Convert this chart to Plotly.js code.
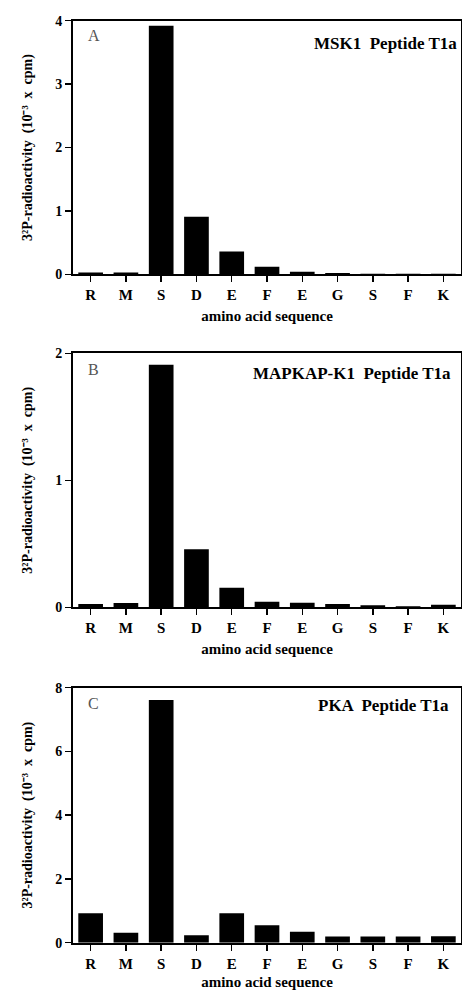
<!DOCTYPE html>
<html>
<head>
<meta charset="utf-8">
<script src="https://cdn.plot.ly/plotly-3.0.1.min.js"></script>
<style>html,body{margin:0;padding:0;background:#fff;}#chart{width:462px;height:990px;}</style>
</head>
<body>
<div id="chart"></div>
<script>
// amino acid sequence of peptide T1a
const residues = ['R','M','S','D','E','F','E','G','S','F','K'];
// 32P-radioactivity (10^-3 x cpm) released at each Edman cycle
const msk1Values    = [0.03, 0.03, 3.92, 0.91, 0.36, 0.12, 0.04, 0.02, 0.01, 0.01, 0.01];
const mapkapValues  = [0.026, 0.034, 1.91, 0.457, 0.154, 0.044, 0.036, 0.026, 0.016, 0.008, 0.02];
const pkaValues     = [0.92, 0.31, 7.61, 0.23, 0.92, 0.545, 0.345, 0.19, 0.19, 0.19, 0.2];
const panelLetters  = ['A','B','C'];
const panelTitles   = ['MSK1  Peptide T1a','MAPKAP-K1  Peptide T1a','PKA  Peptide T1a'];
const yTickSets     = [[0,1,2,3,4],[0,1,2],[0,2,4,6,8]];
const yRanges       = [[0,4],[0,2],[0,8]];
const yTitle        = '3²P-radioactivity  (10⁻³  x  cpm)';
const xTitle        = 'amino acid sequence';

const positions = residues.map((_, i) => i);
const series = [msk1Values, mapkapValues, pkaValues];

const serif = 'Liberation Serif, Times New Roman, serif';
const domains = [[0.7229, 0.9791],[0.3866, 0.6431],[0.0478, 0.3054]];

const traces = series.map((vals, k) => ({
  type: 'bar',
  x: positions,
  y: vals,
  xaxis: k === 0 ? 'x' : 'x' + (k + 1),
  yaxis: k === 0 ? 'y' : 'y' + (k + 1),
  width: 0.7,
  marker: {color: '#000', line: {width: 0}},
  showlegend: false,
  hoverinfo: 'skip'
}));

const layout = {
  width: 462, height: 990,
  margin: {l: 73, r: 1, t: 0, b: 0},
  paper_bgcolor: '#fff', plot_bgcolor: '#fff',
  showlegend: false,
  annotations: []
};

const titleXs = [0.995, 0.979, 0.974];
const titleYs = [0.912, 0.921, 0.929];
const letterYs = [0.94, 0.937, 0.939];

for (let k = 0; k < 3; k++) {
  const xa = k === 0 ? 'xaxis' : 'xaxis' + (k + 1);
  const ya = k === 0 ? 'yaxis' : 'yaxis' + (k + 1);
  const xr = k === 0 ? 'x' : 'x' + (k + 1);
  const yr = k === 0 ? 'y' : 'y' + (k + 1);
  layout[xa] = {
    domain: [0, 1],
    anchor: yr,
    range: [-0.5, residues.length - 0.5],
    tickmode: 'array',
    tickvals: positions,
    ticktext: residues,
    ticks: 'outside', ticklen: 6, tickwidth: 1.5, tickcolor: '#000',
    showline: true, linecolor: '#000', linewidth: 2, mirror: true,
    showgrid: false, zeroline: false,
    tickfont: {family: serif, size: 15, color: '#000', weight: 700},
    title: {text: xTitle, standoff: 8,
            font: {family: serif, size: 15, color: '#000', weight: 700}},
    fixedrange: true
  };
  layout[ya] = {
    domain: domains[k],
    anchor: xr,
    range: yRanges[k],
    tickmode: 'array',
    tickvals: yTickSets[k],
    ticks: 'outside', ticklen: 6, tickwidth: 1.5, tickcolor: '#000',
    showline: true, linecolor: '#000', linewidth: 2, mirror: true,
    showgrid: false, zeroline: false,
    tickfont: {family: serif, size: 14, color: '#000', weight: 700},
    title: {text: yTitle, standoff: 19,
            font: {family: serif, size: 14, color: '#000', weight: 700}},
    fixedrange: true
  };
  layout.annotations.push({
    xref: xr + ' domain', yref: yr + ' domain',
    x: 0.033, y: letterYs[k], xanchor: 'left', yanchor: 'middle',
    text: panelLetters[k], showarrow: false,
    font: {family: serif, size: 16, color: '#555'}
  });
  layout.annotations.push({
    xref: xr + ' domain', yref: yr + ' domain',
    x: titleXs[k], y: titleYs[k], xanchor: 'right', yanchor: 'middle',
    text: panelTitles[k], showarrow: false,
    font: {family: serif, size: 17, color: '#000', weight: 700}
  });
}

Plotly.newPlot('chart', traces, layout, {staticPlot: true, displayModeBar: false});
</script>
</body>
</html>
